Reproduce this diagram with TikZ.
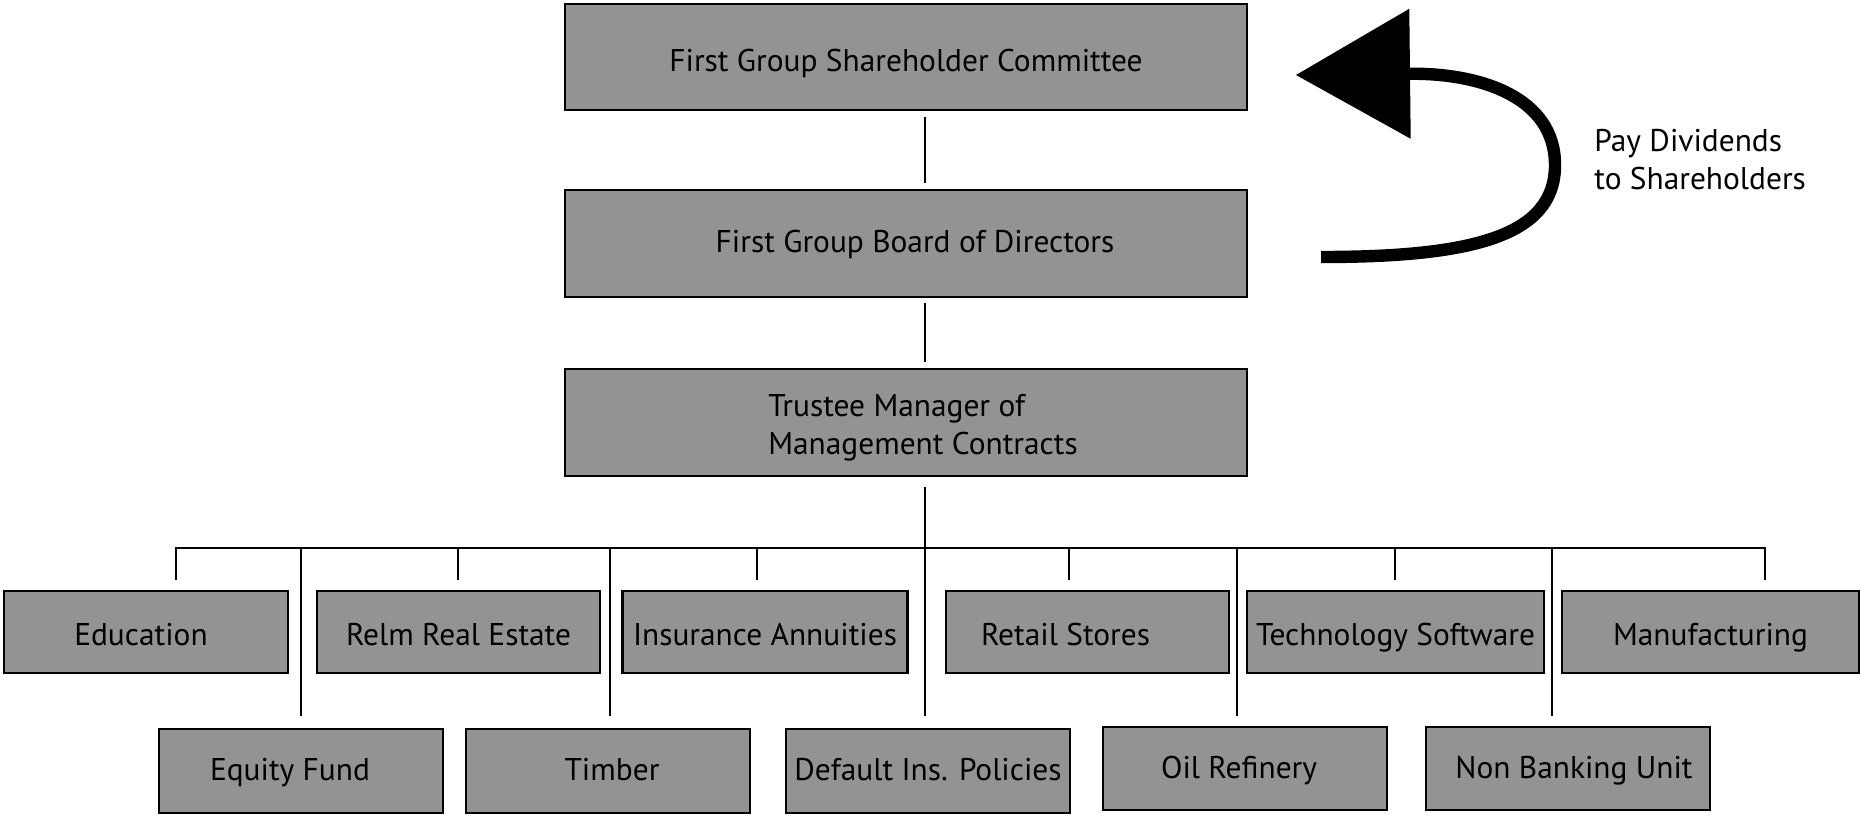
\documentclass[tikz,border=0pt]{standalone}
\usepackage{fontspec}
\setmainfont{PT Sans}
\usetikzlibrary{arrows.meta,calc}
\definecolor{boxgray}{RGB}{147,147,147}
\begin{document}
\begin{tikzpicture}[x=0.5pt,y=-0.5pt,
  box/.style={draw=black, fill=boxgray, line width=1.25pt, inner sep=0pt},
  bigbox/.style={box, minimum width=341pt, minimum height=53pt},
  rowbox/.style={box, minimum width=142pt, minimum height=41pt},
  lowbox/.style={box, minimum width=142pt, minimum height=42pt},
  lbl/.style={font=\fontsize{15.7}{19}\selectfont, inner sep=0pt, text height=11.5pt, text depth=3.6pt},
  mlbl/.style={font=\fontsize{15.7}{19}\selectfont, inner sep=0pt, align=left},
  conn/.style={draw=black, line width=1.25pt},
]
\useasboundingbox (0,0) rectangle (1861,815);

% main boxes
\node[bigbox, label={[lbl,yshift=-3.5pt]center:First Group Shareholder Committee}] (top) at (906,57) {};
\node[bigbox, minimum height=53.5pt, label={[lbl,xshift=4.5pt,yshift=-0.5pt]center:First Group Board of Directors}] (board) at (906,243.5) {};
\node[bigbox, minimum height=53.5pt, label={[mlbl,xshift=8.5pt,yshift=-2.5pt]center:{Trustee Manager of\\Management Contracts}}] (trustee) at (906,422.5) {};

% first row
\tikzset{r1/.style={lbl,yshift=-2.8pt}, r2/.style={lbl,yshift=-1pt}}
\node[rowbox, label={[r1,xshift=-2.5pt]center:Education}] (edu) at (146,632) {};
\node[rowbox, minimum width=141.5pt, label={[r1]center:Relm Real Estate}] (relm) at (458.5,632) {};
\node[rowbox, minimum width=142.5pt, label={[r1]center:Insurance Annuities}] (ins) at (765,632) {};
\node[rowbox, minimum width=141.5pt, label={[r1,xshift=-11pt]center:Retail Stores}] (retail) at (1087.5,632) {};
\node[rowbox, minimum width=148.5pt, label={[r1]center:Technology Software}] (tech) at (1395.5,632) {};
\node[rowbox, minimum width=148.5pt, label={[r1]center:Manufacturing}] (manu) at (1710.5,632) {};

% second row
\node[lowbox, label={[r2,xshift=-5.5pt]center:Equity Fund}] (equity) at (301,771) {};
\node[lowbox, label={[r2,xshift=2pt]center:Timber}] (timber) at (608,771) {};
\node[lowbox, label={[r2]center:Default Ins. Policies}] (default) at (928,771) {};
\node[lowbox, minimum height=41.5pt, label={[r2,xshift=-3pt]center:Oil Refinery}] (oil) at (1245,768.5) {};
\node[lowbox, minimum height=41.5pt, label={[r2,xshift=3pt]center:Non Banking Unit}] (nonb) at (1568,768.5) {};

% spine
\coordinate (hub) at (925,548);
\draw[conn, shorten <=3pt, shorten >=3pt] (hub |- top.south) -- (hub |- board.north);
\draw[conn, shorten <=2.5pt, shorten >=3pt] (hub |- board.south) -- (hub |- trustee.north);
\draw[conn, shorten <=5pt, shorten >=6pt] (hub |- trustee.south) -- (hub |- default.north);

% bus
\coordinate (tEdu) at (176,548);
\coordinate (tRelm) at (458,548);
\coordinate (tIns) at (757,548);
\coordinate (tRet) at (1069,548);
\coordinate (tTech) at (1395,548);
\coordinate (tMan) at (1765,548);
\coordinate (lEq) at (301,548);
\coordinate (lTim) at (610,548);
\coordinate (lOil) at (1237,548);
\coordinate (lNon) at (1552,548);
\draw[conn, shorten <=5pt, shorten >=5pt] (tEdu |- edu.north) -- (tEdu) -- (tMan) -- (tMan |- manu.north);
\draw[conn, shorten >=5pt] (tRelm) -- (tRelm |- relm.north);
\draw[conn, shorten >=5pt] (tIns) -- (tIns |- ins.north);
\draw[conn, shorten >=5pt] (tRet) -- (tRet |- retail.north);
\draw[conn, shorten >=5pt] (tTech) -- (tTech |- tech.north);
\draw[conn, shorten >=6pt] (lEq) -- (lEq |- equity.north);
\draw[conn, shorten >=6pt] (lTim) -- (lTim |- timber.north);
\draw[conn, shorten >=5pt] (lOil) -- (lOil |- oil.north);
\draw[conn, shorten >=5pt] (lNon) -- (lNon |- nonb.north);

% dividends arrow
\coordinate (divS) at (1321,257);
\coordinate (divE) at (1296,75);
\draw[line width=6.2pt, -{Triangle[length=57pt,width=65pt,line width=0pt]}]
  (divS) .. controls (1470,257) and (1555,237) .. (1555,165)
         .. controls (1555,97) and (1480,73) .. (divE);
\node[mlbl, anchor=north west] (divtext) at (1594,129) {Pay Dividends\\to Shareholders};
\end{tikzpicture}
\end{document}
